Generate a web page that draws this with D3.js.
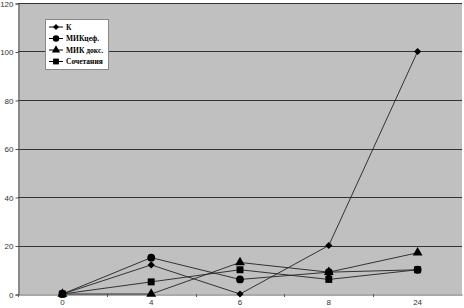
<!DOCTYPE html>
<html>
<head>
<meta charset="utf-8">
<script src="https://cdn.jsdelivr.net/npm/d3@7"></script>
<style>
  body { margin: 0; background: #fff; }
  .axis text { font-family: Arial, "Liberation Sans", sans-serif; font-size: 8px; fill: #333; }
  .legend text { font-family: "Liberation Serif", "Times New Roman", serif; font-size: 7.5px; font-weight: bold; fill: #000; }
</style>
</head>
<body>
<div id="chart"></div>
<script>
// chart data
var categories = ["0", "4", "6", "8", "24"];
var seriesNames = ["К", "МИКцеф.", "МИК докс.", "Сочетания"];
var valuesK = [0, 12, 0, 20, 100];
var valuesCef = [0, 15, 6, 9, 10];
var valuesDox = [0, 0, 13, 9, 17];
var valuesComb = [0, 5, 10, 6, 10];
var yTicks = [0, 20, 40, 60, 80, 100, 120];

var series = [
  {name: seriesNames[0], values: valuesK, symbol: d3.symbolSquare, size: 26, rotate: 45},
  {name: seriesNames[1], values: valuesCef, symbol: d3.symbolCircle, size: 48, rotate: 0},
  {name: seriesNames[2], values: valuesDox, symbol: d3.symbolTriangle, size: 42, rotate: 0},
  {name: seriesNames[3], values: valuesComb, symbol: d3.symbolSquare, size: 48, rotate: 0}
];

var width = 464, height = 308;
var plot = {left: 18, right: 462, top: 3, bottom: 294};

var svg = d3.select("#chart").append("svg")
    .attr("width", width)
    .attr("height", height);

var x = d3.scaleBand()
    .domain(categories)
    .range([plot.left, plot.right]);

var y = d3.scaleLinear()
    .domain([0, 120])
    .range([plot.bottom, plot.top]);

// plot background
svg.append("rect")
    .attr("x", plot.left)
    .attr("y", plot.top)
    .attr("width", plot.right - plot.left)
    .attr("height", plot.bottom - plot.top)
    .attr("fill", "#c0c0c0");

// gridlines
svg.append("g")
  .selectAll("line")
  .data(yTicks.filter(function(d) { return d > 0; }))
  .enter().append("line")
    .attr("x1", plot.left)
    .attr("x2", plot.right)
    .attr("y1", function(d) { return Math.round(y(d)) + 0.5; })
    .attr("y2", function(d) { return Math.round(y(d)) + 0.5; })
    .attr("stroke", "#333")
    .attr("stroke-width", 1);

// y axis
var yAxis = svg.append("g")
    .attr("class", "axis")
    .attr("transform", "translate(" + (plot.left + 0.5) + ",0.5)")
    .call(d3.axisLeft(y).tickValues(yTicks).tickSize(3).tickPadding(2));
yAxis.select(".domain").attr("stroke", "#555");
yAxis.selectAll(".tick line").attr("stroke", "#555");

// x axis
var xAxis = svg.append("g")
    .attr("class", "axis")
    .attr("transform", "translate(0," + (plot.bottom + 0.5) + ")")
    .call(d3.axisBottom(x).tickSize(0).tickPadding(5));
xAxis.select(".domain").attr("stroke", "#555");

// small tick marks between categories
svg.append("g")
  .selectAll("line")
  .data(categories)
  .enter().append("line")
    .attr("x1", function(d) { return Math.round(x(d)) + 0.5; })
    .attr("x2", function(d) { return Math.round(x(d)) + 0.5; })
    .attr("y1", plot.bottom)
    .attr("y2", plot.bottom + 3)
    .attr("stroke", "#555");

var line = d3.line()
    .x(function(d, i) { return x(categories[i]) + x.bandwidth() / 2; })
    .y(function(d) { return y(d); });

series.forEach(function(s) {
  svg.append("path")
      .datum(s.values)
      .attr("d", line)
      .attr("fill", "none")
      .attr("stroke", "#222")
      .attr("stroke-width", 0.9);
});

series.forEach(function(s) {
  svg.append("g")
    .selectAll("path")
    .data(s.values)
    .enter().append("path")
      .attr("d", d3.symbol().type(s.symbol).size(s.size))
      .attr("transform", function(d, i) {
        return "translate(" + (x(categories[i]) + x.bandwidth() / 2) + "," + y(d) + ") rotate(" + s.rotate + ")";
      })
      .attr("fill", "#000");
});

// legend
var legend = svg.append("g")
    .attr("class", "legend")
    .attr("transform", "translate(45,19)");

legend.append("rect")
    .attr("x", 0.5)
    .attr("y", 0.5)
    .attr("width", 63)
    .attr("height", 50)
    .attr("fill", "#fff")
    .attr("stroke", "#888");

var item = legend.selectAll(".item")
    .data(series)
    .enter().append("g")
    .attr("transform", function(d, i) { return "translate(4," + (8 + i * 11.5) + ")"; });

item.append("line")
    .attr("x1", 0)
    .attr("x2", 14)
    .attr("stroke", "#000");

item.append("path")
    .attr("d", function(d) { return d3.symbol().type(d.symbol).size(d.size * 0.7)(); })
    .attr("transform", function(d) { return "translate(7,0) rotate(" + d.rotate + ")"; })
    .attr("fill", "#000");

item.append("text")
    .attr("x", 17)
    .attr("y", 2.5)
    .text(function(d) { return d.name; });
</script>
</body>
</html>
